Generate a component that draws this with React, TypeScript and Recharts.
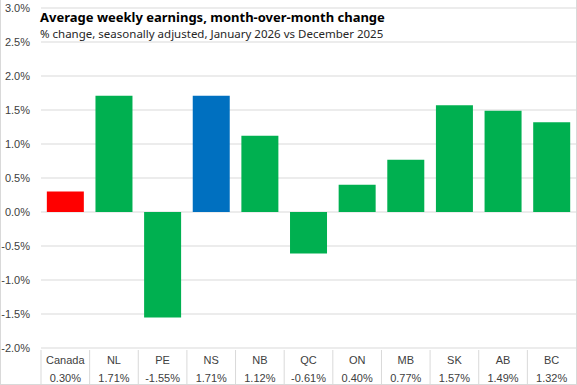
import { Bar, BarChart, CartesianGrid, Cell, XAxis, YAxis } from "recharts";

const regions = ["Canada", "NL", "PE", "NS", "NB", "QC", "ON", "MB", "SK", "AB", "BC"];
const changes = [0.3, 1.71, -1.55, 1.71, 1.12, -0.61, 0.4, 0.77, 1.57, 1.49, 1.32];
const yTicks = [-2, -1.5, -1, -0.5, 0, 0.5, 1, 1.5, 2, 2.5, 3];

const GREEN = "#00b050";
const colorFor = (name: string) => (name === "Canada" ? "#ff0000" : name === "NS" ? "#0070c0" : GREEN);

const data = regions.map((name, i) => ({ name, value: changes[i] }));

const W = 577;
const H = 385;
const LEFT = 41;
const RIGHT = 1;
const bandWidth = (W - LEFT - RIGHT) / regions.length;
const gridColor = "#d9d9d9";
const tickFont = "'Liberation Sans', Arial, sans-serif";

function TableTick(props: any) {
  const { x, y, payload, index } = props;
  const val = changes[index];
  return (
    <g>
      <line x1={x - bandWidth / 2} x2={x - bandWidth / 2} y1={y} y2={H} stroke={gridColor} />
      <text x={x} y={y + 14} textAnchor="middle" fontSize={11} fill="#404040" fontFamily={tickFont}>
        {payload.value}
      </text>
      <text x={x} y={y + 32} textAnchor="middle" fontSize={11} fill="#404040" fontFamily={tickFont}>
        {val.toFixed(2)}%
      </text>
    </g>
  );
}

export default function App() {
  return (
    <div style={{ position: "absolute", left: 0, top: 0, width: W, height: H, background: "#fff" }}>
      <BarChart width={W} height={H} data={data} margin={{ top: 8, right: RIGHT, bottom: 0, left: 0 }} barCategoryGap="12%">
        <CartesianGrid vertical={false} stroke={gridColor} />
        <YAxis
          width={LEFT}
          domain={[-2, 3]}
          ticks={yTicks}
          axisLine={false}
          tickLine={false}
          tickSize={0}
          tickMargin={11}
          tickFormatter={(v: number) => `${v.toFixed(1)}%`}
          tick={{ fontSize: 11, fill: "#404040", fontFamily: tickFont }}
        />
        <XAxis dataKey="name" height={37} axisLine={false} tickLine={false} tickSize={0} interval={0} tick={<TableTick />} />
        <Bar dataKey="value" isAnimationActive={false}>
          {data.map((d) => (
            <Cell key={d.name} fill={colorFor(d.name)} />
          ))}
        </Bar>
      </BarChart>
      <div
        style={{
          position: "absolute",
          left: 0,
          top: 0,
          width: W,
          height: H,
          boxSizing: "border-box",
          border: `1px solid ${gridColor}`,
          borderTop: "none",
          pointerEvents: "none",
        }}
      />
      <div style={{ position: "absolute", left: 40, top: 8, fontFamily: "'Noto Sans', sans-serif", color: "#000" }}>
        <div style={{ fontSize: 13, fontWeight: 700, lineHeight: "18px" }}>Average weekly earnings, month-over-month change</div>
        <div style={{ fontSize: 11.5, lineHeight: "16px", color: "#262626" }}>
          % change, seasonally adjusted, January 2026 vs December 2025
        </div>
      </div>
    </div>
  );
}
